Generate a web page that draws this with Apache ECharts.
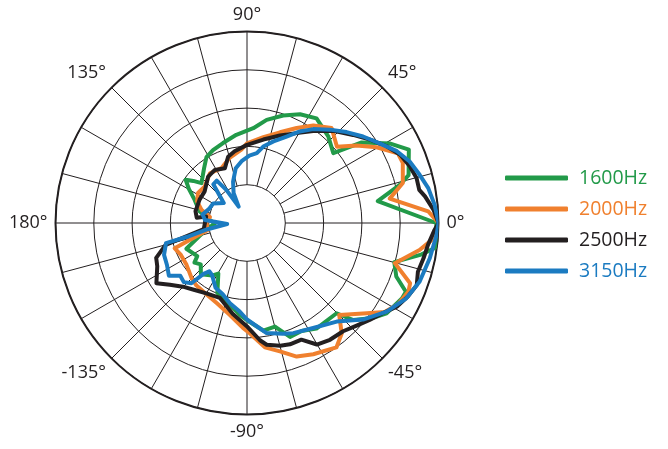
<!DOCTYPE html>
<html><head><meta charset="utf-8">
<script src="https://cdn.jsdelivr.net/npm/echarts/dist/echarts.min.js"></script>
<style>html,body{margin:0;padding:0;background:#fff}#c{width:668px;height:449px}</style>
</head><body><div id="c"></div>
<script>
// ---- data: [angle in degrees, level in dB] ----
const seriesNames = ['1600Hz', '2000Hz', '2500Hz', '3150Hz'];
const seriesColors = ['#229a49', '#f0802e', '#231f20', '#1b7bc1'];
const labelAngles = [0, 45, 90, 135, 180, -45, -90, -135];
const spokeAngles = [-180,-165,-150,-135,-120,-105,-90,-75,-60,-45,-30,-15,0,15,30,45,60,75,90,105,120,135,150,165];

const hz1600 = [[0,-0.3],[9.5,-7.7],[14.1,-4.4],[16.5,-3.0],[24.4,-1.8],[29,-3.6],[35.1,-6.7],[39,-10.5],[46.8,-9.5],[56.4,-8.6],[64,-9.2],[71.4,-10.2],[79.2,-11.3],[86.2,-12.6],[96.9,-13.4],[106.7,-14.1],[115,-14.5],[121.6,-14.9],[128,-15.9],[138.8,-17.1],[141.9,-16.1],[144.8,-15.2],[149.6,-16.2],[156,-17.5],[166,-18.6],[175,-20.1],[-178.8,-20.8],[-171,-19.6],[-157,-16.4],[-146.3,-17.2],[-143,-16.4],[-138.2,-16.9],[-132,-16],[-123.3,-16.8],[-119.5,-17.4],[-113,-15.1],[-109.7,-14.8],[-101.9,-14.1],[-94.6,-13],[-90,-12.3],[-81.4,-10.8],[-74.9,-11],[-69.3,-9.1],[-63.2,-9.2],[-56.7,-8.5],[-45.2,-8.4],[-42.4,-6.2],[-37,-4.4],[-32.9,-3.3],[-26,-2.5],[-23.4,-2.4],[-19.7,-4.3],[-14.9,-5.1],[-10.3,-1.9],[-7.5,-0.2],[-3.5,-0.2],[0,-0.3]];

const hz2000 = [[0,0],[3.7,-1.3],[9.7,-6.1],[14.4,-4],[21.1,-3.2],[24.8,-3.3],[30.3,-5.4],[35.3,-7.5],[40.3,-9.6],[48.3,-8.4],[55.8,-9.6],[62.4,-11],[70,-12.4],[79.2,-13.6],[90,-14.6],[94.4,-15.4],[104.9,-16.2],[115,-17.1],[126.7,-16.9],[139,-17.7],[148.5,-17.5],[156.6,-17.9],[163.7,-18.8],[170.9,-20.1],[180,-19.7],[-170,-19.8],[-160.7,-15],[-154.8,-15.4],[-145.3,-15.4],[-135.2,-14.8],[-128.9,-14.5],[-119.7,-14.3],[-110.5,-13.8],[-100.7,-12.8],[-92.2,-11.3],[-88.6,-10.6],[-81.8,-8.6],[-75.6,-7.7],[-69.6,-6.4],[-63.2,-5.8],[-54.3,-5.0],[-49.4,-6],[-44.9,-8],[-37,-5.4],[-32.9,-3.6],[-28.3,-2.6],[-23,-2.1],[-20.3,-2.3],[-15.2,-5],[-8.9,-2.2],[-5.3,-0.8],[0,0]];

const hz2500 = [[0,0],[4.1,-0.6],[8.5,-1.5],[10.9,-2.1],[14.9,-2.1],[19.2,-2.5],[24,-3.1],[28.8,-4.2],[34.1,-5.6],[39.7,-7],[46.9,-8.5],[54.3,-10.2],[61.1,-11.6],[69.4,-12.8],[78.9,-13.9],[90,-14.8],[99.8,-15.5],[105.9,-16],[112,-17.3],[121.2,-16.9],[129.9,-17.1],[143.2,-18.1],[153.8,-18.1],[167,-18.1],[174,-18.4],[171,-19.6],[-172,-19.3],[-165,-14],[-159,-12.3],[-154.3,-12],[-146.4,-10.8],[-141.3,-12.1],[-135.2,-13.2],[-128,-13.9],[-120,-14.4],[-110,-14.6],[-99,-13],[-90,-11.5],[-83.7,-9.6],[-80.8,-8.9],[-74.9,-8.4],[-70.5,-8.2],[-65,-8.2],[-60.1,-6.7],[-54.6,-6.3],[-48.4,-6.1],[-43.1,-5.4],[-38.3,-4.6],[-33.5,-3.7],[-29.2,-2.6],[-24.5,-1.9],[-20.1,-1.4],[-15.9,-1.8],[-11.3,-1.5],[-6.9,-1.2],[-2.1,-0.5],[0,0]];

const hz3150 = [[0,0],[5.6,-0.4],[10.9,-0.9],[15.6,-1.6],[20.7,-2.3],[25.6,-3.3],[31,-4.8],[36.7,-6.1],[42.4,-7.4],[48.4,-8.7],[54.8,-10],[60,-11.2],[65.4,-12.6],[72,-13.8],[78,-14.8],[82,-15.8],[88,-16.2],[95,-16.9],[101.6,-17.7],[108.6,-19.3],[114,-20.7],[117,-22.6],[122,-19.9],[125.5,-18.2],[131,-18.3],[139.4,-21],[150,-19.9],[160,-19.7],[169,-19.1],[176,-19.5],[-177,-22.4],[-171,-19.8],[-167,-17],[-166,-14.1],[-159,-13.4],[-152.3,-13.2],[-146,-12.7],[-141.7,-13.9],[-136.9,-13.7],[-132.7,-14.3],[-130.6,-16.2],[-128,-17],[-123.7,-16.8],[-115.9,-15.6],[-109,-15.2],[-102,-14.3],[-94.7,-13.4],[-90,-12.4],[-79.9,-10.4],[-72,-9.8],[-67.2,-9.4],[-57.8,-8.8],[-47.7,-7.6],[-39.8,-5.3],[-32.4,-3.4],[-25.3,-2],[-18.7,-1.2],[-10.9,-0.7],[-3.6,-0.2],[0,0]];

const seriesData = [hz1600, hz2000, hz2500, hz3150];
// radial scale (dB)
const rMin = -25, rMax = 0, rStep = 5, spokeInner = -20;

const font = '"Open Sans", "Noto Sans", sans-serif';
const ink = '#231f20';

const chart = echarts.init(document.getElementById('c'), null, {renderer: 'canvas'});
const option = {
  animation: false,
  backgroundColor: '#fff',
  polar: { center: [247, 223], radius: 191.5 },
  angleAxis: {
    type: 'value', min: -180, max: 180, interval: 15,
    startAngle: 180, clockwise: false,
    axisLine: { show: true, lineStyle: { color: ink, width: 2 } },
    axisTick: { show: false },
    splitLine: { show: false },
    axisLabel: {
      show: true, interval: 0, margin: 8,
      color: ink, fontSize: 18, fontFamily: font,
      formatter: v => labelAngles.includes(v) || v === -180
        ? (v === -180 ? '180°' : (v === 180 ? '' : v + '°')) : ''
    }
  },
  radiusAxis: {
    type: 'value', min: rMin, max: rMax, interval: rStep,
    axisLine: { show: false }, axisTick: { show: false }, axisLabel: { show: false },
    splitLine: { show: true, lineStyle: { color: ink, width: 1 } }
  },
  legend: {
    orient: 'vertical', left: 505, top: 167, padding: 0,
    itemWidth: 63, itemHeight: 5, itemGap: 9,
    icon: 'roundRect',
    textStyle: { fontSize: 19.5, fontFamily: font, lineHeight: 22, padding: [0, 0, 0, 6] },
    data: seriesNames.map((n, i) => ({ name: n, textStyle: { color: seriesColors[i] } }))
  },
  series: [
    {
      type: 'custom', coordinateSystem: 'polar', silent: true, z: 1,
      data: spokeAngles.map(a => [rMax, a]),
      renderItem: (params, api) => {
        const a = api.value(1);
        const p1 = api.coord([spokeInner, a]);
        const p2 = api.coord([rMax, a]);
        return { type: 'line', shape: { x1: p1[0], y1: p1[1], x2: p2[0], y2: p2[1] },
                 style: { stroke: ink, lineWidth: 1 } };
      }
    }
  ].concat(seriesData.map((d, i) => ({
    name: seriesNames[i], type: 'line', coordinateSystem: 'polar', z: 2 + i,
    data: d.map(p => [p[1], p[0]]),
    symbol: 'none', smooth: false,
    color: seriesColors[i],
    lineStyle: { width: 4, color: seriesColors[i], join: 'round', cap: 'round' }
  })))
};
chart.setOption(option);
</script>
</body></html>
